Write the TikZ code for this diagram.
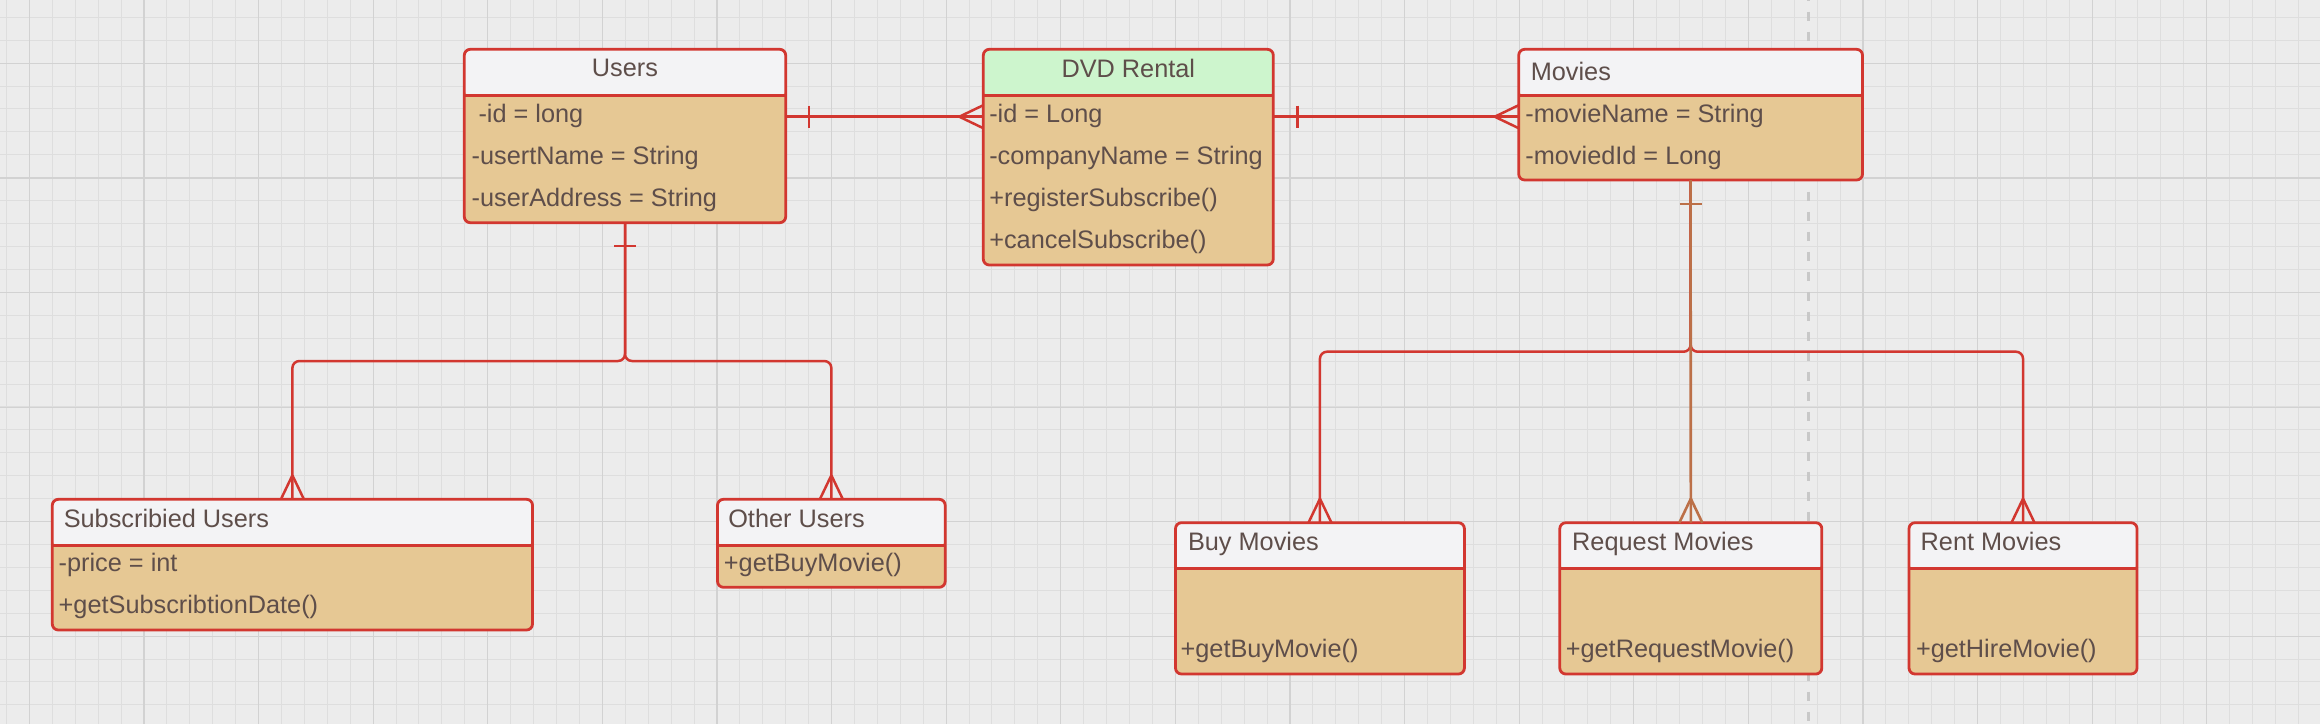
\documentclass[tikz,border=0pt]{standalone}
\usepackage{fontspec}
\setmainfont{Liberation Sans}
\definecolor{bgc}{RGB}{236,236,236}
\definecolor{gminor}{RGB}{222,222,222}
\definecolor{gmajor}{RGB}{210,210,210}
\definecolor{gdash}{RGB}{200,200,200}
\definecolor{bred}{RGB}{210,55,48}
\definecolor{brn}{RGB}{188,112,72}
\definecolor{hdrgrey}{RGB}{243,243,245}
\definecolor{hdrgreen}{RGB}{205,245,205}
\definecolor{bodyc}{RGB}{230,200,148}
\definecolor{tcol}{RGB}{94,78,74}
\tikzset{
  umlbox/.style={draw=bred, line width=2.8pt, fill=bodyc, rounded corners=6pt,
    inner sep=0pt, outer sep=0pt, anchor=north west,
    path picture={\fill[#1] (path picture bounding box.north west) rectangle ([yshift=-46pt]path picture bounding box.north east);}},
  divider/.style={draw=bred, line width=2.8pt},
  txt/.style={anchor=base west, inner sep=0pt, outer sep=0pt, font=\fontsize{25.3pt}{30pt}\selectfont, text=tcol},
  ttl/.style={txt, anchor=base},
  conn/.style={draw=bred, line width=2.5pt, line join=round},
  bconn/.style={draw=brn, line width=2.6pt, line join=round},
  minorline/.style={draw=gminor, line width=1pt},
  majorline/.style={draw=gmajor, line width=1.2pt},
}
\newcommand\umlclass[6]{%
  \node[umlbox=#6, minimum width=#4pt, minimum height=#5pt] (#1) at (#2,#3) {};
  \draw[divider] ([yshift=-46pt]#1.north west) -- ([yshift=-46pt]#1.north east);
}
% crow's foot entering from the left; #1 = point on box edge, #2 = style
\newcommand\crowleft[2]{%
  \draw[#2] ([xshift=-24pt]#1) -- ([yshift=11.5pt]#1)
            ([xshift=-24pt]#1) -- ([yshift=-11.5pt]#1);
}
% crow's foot entering from the top
\newcommand\crowtop[2]{%
  \draw[#2] ([yshift=24pt]#1) -- ([xshift=-11.5pt]#1)
            ([yshift=24pt]#1) -- ([xshift=11.5pt]#1);
}
\begin{document}
\begin{tikzpicture}[x=1pt,y=-1pt]
\useasboundingbox (0,0) rectangle (2320,724);
\fill[bgc] (0,0) rectangle (2320,724);
% grid
\foreach \i in {0,...,101} {
  \pgfmathsetmacro\xx{6.4+22.92*\i}
  \draw[minorline] (\xx,0) -- (\xx,724);
}
\foreach \j in {0,...,31} {
  \pgfmathsetmacro\yy{17.3+22.92*\j}
  \draw[minorline] (0,\yy) -- (2320,\yy);
}
\foreach \i in {0,...,20} {
  \pgfmathsetmacro\xx{29.3+114.6*\i}
  \draw[majorline] (\xx,0) -- (\xx,724);
}
\foreach \j in {0,...,5} {
  \pgfmathsetmacro\yy{63.3+114.6*\j}
  \draw[majorline] (0,\yy) -- (2320,\yy);
}
% dashed separator
\draw[draw=gdash, line width=3pt, dash pattern=on 9pt off 11pt] (1808.5,-8.3) -- (1808.5,730);

% boxes
\umlclass{users}{464.3}{49.3}{321.4}{173.4}{hdrgrey}
\umlclass{dvd}{983.3}{49.3}{290}{215.7}{hdrgreen}
\umlclass{movies}{1518.7}{49.3}{343.8}{130.7}{hdrgrey}
\umlclass{subs}{52.3}{499.3}{480.2}{130.7}{hdrgrey}
\umlclass{other}{717.5}{499.3}{227.7}{88}{hdrgrey}
\umlclass{buy}{1175.5}{522.7}{288.9}{151.3}{hdrgrey}
\umlclass{request}{1559.8}{522.7}{262}{151.3}{hdrgrey}
\umlclass{rent}{1909}{522.7}{228}{151.3}{hdrgrey}

% texts
\node[ttl] (users-t) at (625,76.7) {Users};
\node[txt] (users-1) at (478.5,122) {-id = long};
\node[txt] (users-2) at (471.7,164.5) {-usertName = String};
\node[txt] (users-3) at (471.7,206.5) {-userAddress = String};

\node[ttl] (dvd-t) at (1128.3,77.3) {DVD Rental};
\node[txt] (dvd-1) at (989.3,122) {-id = Long};
\node[txt] (dvd-2) at (989.3,164.5) {-companyName = String};
\node[txt] (dvd-3) at (989.3,206.5) {+registerSubscribe()};
\node[txt] (dvd-4) at (989.3,248.5) {+cancelSubscribe()};

\node[txt] (movies-t) at (1530.8,80) {Movies};
\node[txt] (movies-1) at (1525.4,122) {-movieName = String};
\node[txt] (movies-2) at (1525.4,164.5) {-moviedId = Long};

\node[txt] (subs-t) at (63.8,527.3) {Subscribied Users};
\node[txt] (subs-1) at (58.7,571) {-price = int};
\node[txt] (subs-2) at (58.7,613.5) {+getSubscribtionDate()};

\node[txt] (other-t) at (728.3,527.3) {Other Users};
\node[txt] (other-1) at (723.9,571.5) {+getBuyMovie()};

\node[txt] (buy-t) at (1188,550) {Buy Movies};
\node[txt] (buy-1) at (1180.6,657) {+getBuyMovie()};

\node[txt] (request-t) at (1572.2,550) {Request Movies};
\node[txt] (request-1) at (1565.8,657) {+getRequestMovie()};

\node[txt] (rent-t) at (1920.7,550) {Rent Movies};
\node[txt] (rent-1) at (1916,657) {+getHireMovie()};

% Users -- DVD Rental
\coordinate (ud-a) at ([yshift=-67.4pt]users.north east);
\coordinate (ud-b) at (ud-a -| dvd.west);
\draw[conn] (ud-a) -- (ud-b);
\draw[conn] ([xshift=23.5pt,yshift=11pt]ud-a) -- ([xshift=23.5pt,yshift=-11pt]ud-a);
\crowleft{ud-b}{conn}

% DVD Rental -- Movies
\coordinate (dm-a) at ([yshift=-67.4pt]dvd.north east);
\coordinate (dm-b) at (dm-a -| movies.west);
\draw[conn] (dm-a) -- (dm-b);
\draw[conn] ([xshift=24pt,yshift=11pt]dm-a) -- ([xshift=24pt,yshift=-11pt]dm-a);
\crowleft{dm-b}{conn}

% Users -- subtypes
\coordinate (usplit) at (625,361);
\draw[conn, rounded corners=7pt] (users.south) -- (usplit) -| (subs.north);
\draw[conn, rounded corners=7pt] (users.south) -- (usplit) -| (other.north);
\draw[conn] ([xshift=-11pt,yshift=-23.5pt]users.south) -- ([xshift=11pt,yshift=-23.5pt]users.south);
\crowtop{subs.north}{conn}
\crowtop{other.north}{conn}

% Movies -- subtypes
\coordinate (msplit) at (1690.6,351.7);
\draw[conn, rounded corners=7pt] (movies.south) -- (msplit) -| (buy.north);
\draw[conn, rounded corners=7pt] (movies.south) -- (msplit) -| (rent.north);
\crowtop{buy.north}{conn}
\crowtop{rent.north}{conn}
\draw[bconn] (movies.south) -- (request.north);
\draw[bconn] ([xshift=-11pt,yshift=-24pt]movies.south) -- ([xshift=11pt,yshift=-24pt]movies.south);
\crowtop{request.north}{bconn}
\end{tikzpicture}
\end{document}
